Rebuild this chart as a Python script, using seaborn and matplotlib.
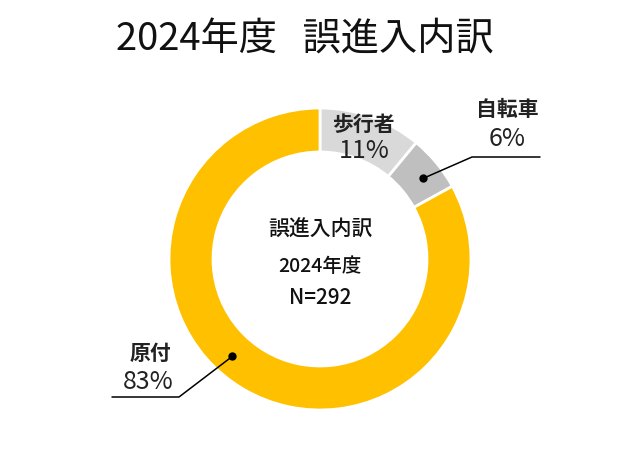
import numpy as np
import matplotlib

matplotlib.use("Agg")
import matplotlib.pyplot as plt
import seaborn as sns

# data
categories = ["歩行者", "自転車", "原付"]
shares = [11, 6, 83]
colors = ["#D9D9D9", "#BFBFBF", "#FFC000"]
title = "2024年度   誤進入内訳"
center_lines = ["誤進入内訳", "2024年度", "N=292"]

sns.set_theme(style="white")
plt.rcParams["font.family"] = ["Noto Sans CJK JP", "DejaVu Sans"]

W, H = 640, 462
fig = plt.figure(figsize=(W / 100, H / 100), dpi=100)
ax = fig.add_axes([0, 0, 1, 1])


def px(x, y):
    # pixel position (top-left origin) -> axes data
    return x, H - y


cx, cy = px(320, 259)
r_out, ring = 151, 44
r_mid = r_out - ring / 2

wedges, _ = ax.pie(
    shares,
    colors=colors,
    startangle=90,
    counterclock=False,
    center=(cx, cy),
    radius=r_out,
    frame=True,
    wedgeprops=dict(width=ring, edgecolor="white", linewidth=2),
)
ax.set_xlim(0, W)
ax.set_ylim(0, H)
ax.axis("off")

ax.text(*px(305, 40), title, ha="center", va="center", fontsize=27.5, color="#111111")

# centre text
ax.text(*px(320, 230), center_lines[0], ha="center", va="center", fontsize=15, fontweight="medium", color="#111111")
ax.text(*px(320, 266), center_lines[1], ha="center", va="center", fontsize=14, fontweight="medium", color="#111111")
ax.text(*px(320, 298), center_lines[2], ha="center", va="center", fontsize=15, fontweight="medium", color="#111111")


def on_ring(angle_deg, r):
    a = np.deg2rad(angle_deg)
    return cx + r * np.cos(a), cy + r * np.sin(a)


# inside label for walkers: middle of its wedge
w = wedges[0]
mid = (w.theta1 + w.theta2) / 2
lx, ly = on_ring(mid, r_mid)
ax.text(lx, ly + 13, categories[0], ha="center", va="center", fontsize=15, fontweight="bold", color="#222222")
ax.text(lx, ly - 13, f"{shares[0]}%", ha="center", va="center", fontsize=18, color="#222222")

# outside labels with leader lines
outside = {
    1: dict(anchor=38, bend=(472, 157), end=540, name=(507, 110), pct=(507, 139)),
    2: dict(anchor=-132, bend=(179, 397), end=112, name=(150, 353), pct=(148, 382)),
}
for i, spec in outside.items():
    dx, dy = on_ring(spec["anchor"], r_mid + 2)
    bx, by = px(*spec["bend"])
    ex = spec["end"]
    ax.plot([dx, bx, ex], [dy, by, by], color="black", lw=1.1)
    ax.plot(dx, dy, "o", color="black", ms=5)
    ax.text(*px(*spec["name"]), categories[i], ha="center", va="center", fontsize=15, fontweight="bold", color="#222222")
    ax.text(*px(*spec["pct"]), f"{shares[i]}%", ha="center", va="center", fontsize=18, color="#222222")

fig.savefig("out.png", dpi=100)
